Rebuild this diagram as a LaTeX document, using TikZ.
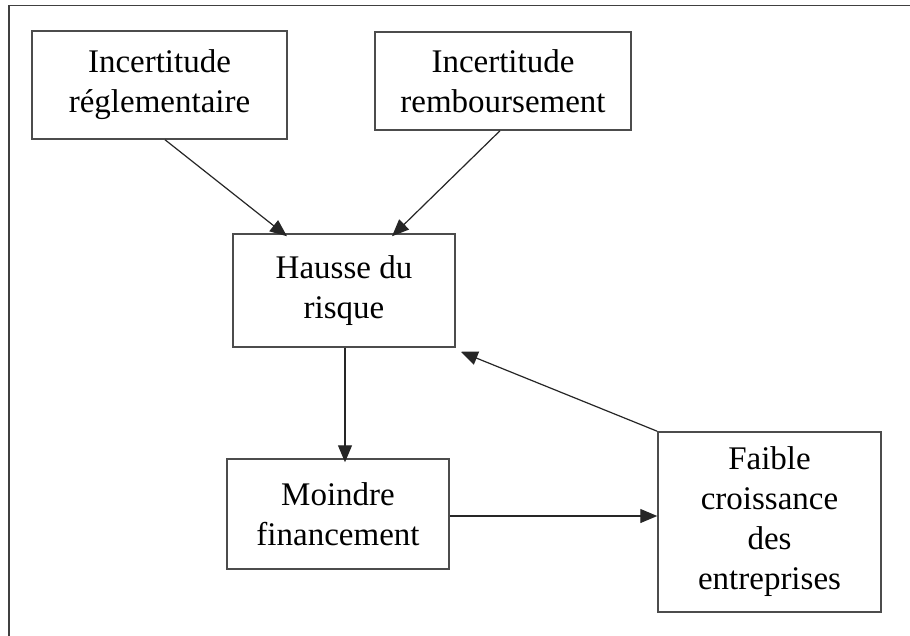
\documentclass[tikz,border=0pt]{standalone}
\usepackage{fontspec}
\setmainfont{Liberation Serif}
\usetikzlibrary{arrows.meta}
\begin{document}
\begin{tikzpicture}[x=1pt,y=-1pt,
  box/.style={draw=black!70, line width=1.5pt, rectangle, inner sep=0pt, align=center,
    font=\fontsize{33}{40}\selectfont},
  conn/.style={draw=black!85, line width=1.2pt, -{Triangle[length=17pt,width=14pt]}}]
\useasboundingbox (0,0) rectangle (910,635);
\fill[white] (0,0) rectangle (910,635);
\draw[black!75, line width=1.8pt] (9,5.5) rectangle (920,645);
\node[box, minimum width=255pt, minimum height=108pt] (a) at (159.5,85) {Incertitude\\réglementaire};
\node[box, minimum width=256pt, minimum height=98pt] (b) at (503,81) {Incertitude\\remboursement};
\node[box, minimum width=222pt, minimum height=113pt] (h) at (344,290.5) {Hausse du\\risque};
\node[box, minimum width=222pt, minimum height=110pt] (m) at (338,514) {Moindre\\financement};
\node[box, minimum width=223pt, minimum height=180pt] (f) at (769.5,522) {Faible\\croissance\\des\\entreprises};
\draw[conn] ([xshift=5.5pt]a.south) -- ([xshift=-57pt,yshift=-3pt]h.north);
\draw[conn] ([xshift=-3pt]b.south) -- ([xshift=48pt,yshift=-3pt]h.north);
\draw[conn] ([xshift=1pt]h.south) -- ([xshift=7pt,yshift=-4pt]m.north);
\draw[conn] ([yshift=-2pt]m.east) -- ([yshift=-2pt]m.east -| f.west);
\draw[conn] (f.north west) -- ([xshift=5pt,yshift=-4pt]h.south east);
\end{tikzpicture}
\end{document}
